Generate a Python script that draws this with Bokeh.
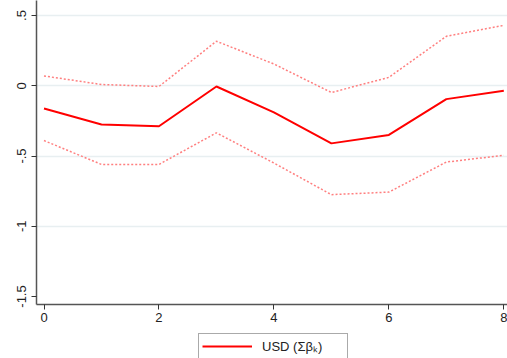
from bokeh.plotting import figure
from bokeh.models import FixedTicker, Range1d, Legend, LegendItem
from bokeh.layouts import column
from bokeh.embed import file_html
from bokeh.resources import INLINE

horizon = [0, 1, 2, 3, 4, 5, 6, 7, 8]
usd_sum_beta = [-0.162, -0.276, -0.288, -0.005, -0.19, -0.41, -0.35, -0.095, -0.036]
upper_ci = [0.07, 0.009, -0.005, 0.317, 0.155, -0.048, 0.06, 0.352, 0.43]
lower_ci = [-0.39, -0.56, -0.56, -0.335, -0.55, -0.775, -0.757, -0.543, -0.495]
x_ticks = [0, 2, 4, 6, 8]
y_ticks = [-1.5, -1, -0.5, 0, 0.5]
y_tick_labels = {-1.5: "-1.5", -1: "-1", -0.5: "-.5", 0: "0", 0.5: ".5"}
grid_ticks = [-1, -0.5, 0, 0.5]
legend_label = "USD (Σβₖ)"

MAIN_COLOR = "#ff0000"
CI_COLOR = "#ff7f7f"

p = figure(width=507, height=333, output_backend="svg", toolbar_location=None,
           x_range=Range1d(-0.1305, 8.064), y_range=Range1d(-1.557, 0.607),
           min_border_left=36, min_border_right=0, min_border_top=0, min_border_bottom=29)
p.outline_line_color = None
p.background_fill_color = "white"
p.border_fill_color = "white"

p.xgrid.visible = False
p.ygrid.ticker = FixedTicker(ticks=grid_ticks)
p.ygrid.grid_line_color = "#e8eff1"
p.ygrid.grid_line_width = 1.5

for ax in (p.xaxis[0], p.yaxis[0]):
    ax.axis_line_color = "#555555"
    ax.axis_line_width = 1.5
    ax.major_tick_line_color = "#333333"
    ax.major_tick_line_width = 1
    ax.major_tick_out = 5
    ax.major_tick_in = 0
    ax.minor_tick_line_color = None
    ax.major_label_text_font = "Liberation Sans"
    ax.major_label_text_font_size = "13px"
    ax.major_label_text_color = "#222222"

p.xaxis.ticker = FixedTicker(ticks=x_ticks)
p.xaxis.major_label_standoff = 3
p.yaxis.ticker = FixedTicker(ticks=y_ticks)
p.yaxis.major_label_overrides = y_tick_labels
p.yaxis.major_label_orientation = "vertical"
p.yaxis.major_label_standoff = 5

p.line(horizon, upper_ci, line_color=CI_COLOR, line_width=1.5, line_dash="2 2")
p.line(horizon, lower_ci, line_color=CI_COLOR, line_width=1.5, line_dash="2 2")
p.line(horizon, usd_sum_beta, line_color=MAIN_COLOR, line_width=2)

# legend strip below the chart
p2 = figure(width=507, height=25, output_backend="svg", toolbar_location=None,
            x_axis_location=None, y_axis_location=None,
            x_range=Range1d(0, 1), y_range=Range1d(0, 1),
            min_border_left=0, min_border_right=0, min_border_top=0, min_border_bottom=0)
p2.outline_line_color = None
p2.grid.visible = False
p2.background_fill_color = "white"
p2.border_fill_color = "white"
# sample line kept outside the visible range; only its legend swatch shows
sample = p2.line([-10, -9], [-10, -10], line_color=MAIN_COLOR, line_width=2)

legend = Legend(items=[LegendItem(label=legend_label, renderers=[sample])],
                location=(162, -1), orientation="horizontal",
                padding=3, margin=0, spacing=0,
                glyph_width=50, glyph_height=18, label_height=18,
                label_standoff=10, label_width=82,
                label_text_font="Liberation Sans", label_text_font_size="13px",
                label_text_color="#222222",
                border_line_color="#555555", border_line_width=1,
                background_fill_color="white", background_fill_alpha=1)
p2.add_layout(legend, "center")

layout = column(p, p2, spacing=0)
open("out.html", "w").write(file_html(layout, INLINE))
